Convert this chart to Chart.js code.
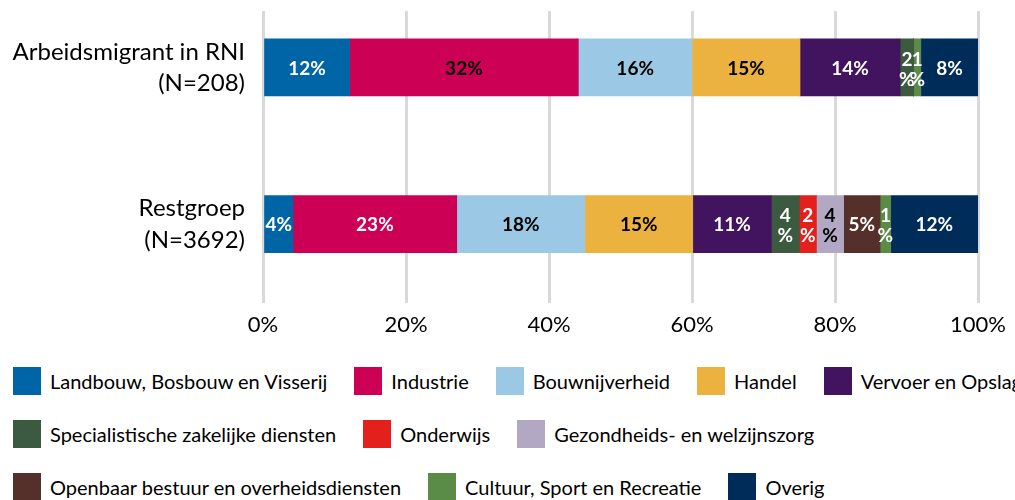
<!DOCTYPE html>
<html>
<head>
<meta charset="utf-8">
<script src="https://cdn.jsdelivr.net/npm/chart.js@4"></script>
<style>
  html, body { margin: 0; padding: 0; background: #fff; }
  body { width: 1015px; height: 500px; overflow: hidden; position: relative; font-family: Lato, sans-serif; }
  #wrap { position: absolute; left: 0; top: -11px; width: 1015px; height: 358px; }
  #legend { position: absolute; left: 13px; top: 367px; width: 1200px; }
  .row { display: flex; align-items: center; height: 28px; margin-bottom: 25px; white-space: nowrap; }
  .item { display: flex; align-items: center; margin-right: 27px; font-size: 20px; color: #000; }
  .box { width: 28px; height: 28px; margin-right: 9px; flex: none; }
</style>
</head>
<body>
<div id="wrap"><canvas id="myChart"></canvas></div>
<div id="legend"></div>
<script>
// categories (y axis)
const categories = [['Arbeidsmigrant in RNI', '(N=208)'], ['Restgroep', '(N=3692)']];

// sectors in stacking order
const sectors = [
  'Landbouw, Bosbouw en Visserij',
  'Industrie',
  'Bouwnijverheid',
  'Handel',
  'Vervoer en Opslag',
  'Specialistische zakelijke diensten',
  'Onderwijs',
  'Gezondheids- en welzijnszorg',
  'Openbaar bestuur en overheidsdiensten',
  'Cultuur, Sport en Recreatie',
  'Overig'
];

// percentages per sector
const migrant   = [12.1, 32.0, 15.9, 15.1, 14.0, 1.9, 0, 0, 0, 1.0, 8.0];
const restgroep = [4.2, 22.9, 17.9, 15.1, 11.0, 3.9, 2.4, 3.8, 5.1, 1.49, 12.2];

const xTicks = [0, 20, 40, 60, 80, 100];

const colors = ['#0065a6', '#cc0055', '#9ac8e5', '#ebb23f', '#42145f', '#3b5a3f',
                '#e3201b', '#b2a8c3', '#55302b', '#5a8b47', '#002c5a'];
// label colour per sector, per category
const labelColors = [
  ['#fff', '#fff'], ['#000', '#fff'], ['#000', '#000'], ['#000', '#000'], ['#fff', '#fff'],
  ['#fff', '#fff'], ['#fff', '#fff'], ['#000', '#000'], ['#fff', '#fff'], ['#fff', '#fff'], ['#fff', '#fff']
];
const legendRows = [5, 3, 3];

const datasets = sectors.map(function (s, i) {
  return {
    label: s,
    data: [migrant[i], restgroep[i]],
    backgroundColor: colors[i],
    barThickness: 57
  };
});

const barLabels = {
  id: 'barLabels',
  beforeDatasetsDraw(chart) {
    // grid lines start a bit lower than the chart area
    const ctx = chart.ctx;
    ctx.save();
    ctx.fillStyle = '#fff';
    ctx.fillRect(0, 0, chart.width, 22);
    ctx.restore();
  },
  afterDatasetsDraw(chart) {
    const ctx = chart.ctx;
    const xs = chart.scales.x;
    ctx.save();
    ctx.font = 'bold 19px Lato';
    ctx.textAlign = 'center';
    ctx.textBaseline = 'middle';
    chart.data.datasets.forEach(function (ds, i) {
      chart.getDatasetMeta(i).data.forEach(function (bar, j) {
        const v = ds.data[j];
        if (!v) return;
        const txt = Math.round(v);
        const w = xs.getPixelForValue(v) - xs.getPixelForValue(0);
        const cx = (bar.x + bar.base) / 2;
        ctx.fillStyle = labelColors[i][j];
        if (w < 29) {
          // narrow segment: number above the % sign
          ctx.fillText(txt, cx, bar.y - 8);
          ctx.fillText('%', cx, bar.y + 12);
        } else {
          ctx.fillText(txt + '%', cx, bar.y + 1);
        }
      });
    });
    ctx.restore();
  }
};

new Chart('myChart', {
  type: 'bar',
  data: { labels: categories, datasets: datasets },
  plugins: [barLabels],
  options: {
    indexAxis: 'y',
    responsive: true,
    maintainAspectRatio: false,
    animation: false,
    layout: { padding: { left: 0, right: 36, top: 0, bottom: 0 } },
    plugins: { legend: { display: false }, tooltip: { enabled: false } },
    scales: {
      x: {
        stacked: true,
        min: 0,
        max: 100,
        afterBuildTicks(scale) { scale.ticks = xTicks.map(v => ({ value: v })); },
        ticks: { callback: v => v + '%', color: '#000', font: { family: 'Lato', size: 22 }, padding: 9 },
        grid: { color: '#d9d9d9', lineWidth: 3, drawTicks: false },
        border: { display: false }
      },
      y: {
        stacked: true,
        afterFit(scale) {
          scale.width = 263;
          scale.paddingTop = 0;
          scale.paddingBottom = 0;
        },
        ticks: { color: '#000', font: { family: 'Lato', size: 24, lineHeight: 1.3 }, padding: 10 },
        grid: { display: false },
        border: { display: false }
      }
    }
  }
});

// legend below the chart
const legend = document.getElementById('legend');
let k = 0;
legendRows.forEach(function (n) {
  const row = document.createElement('div');
  row.className = 'row';
  for (let m = 0; m < n; m++, k++) {
    const item = document.createElement('div');
    item.className = 'item';
    const box = document.createElement('span');
    box.className = 'box';
    box.style.background = colors[k];
    item.appendChild(box);
    item.appendChild(document.createTextNode(sectors[k]));
    row.appendChild(item);
  }
  legend.appendChild(row);
});
</script>
</body>
</html>
